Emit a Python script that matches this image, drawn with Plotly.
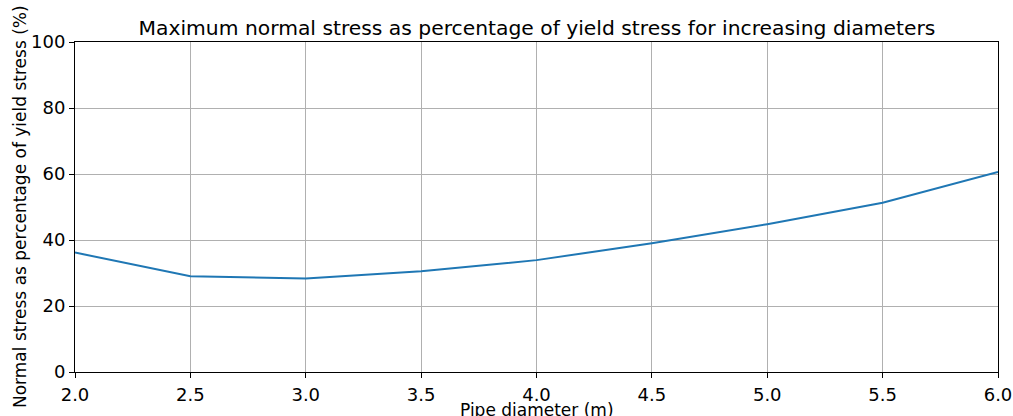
import plotly.graph_objects as go

diameters = [2.0, 2.5, 3.0, 3.5, 4.0, 4.5, 5.0, 5.5, 6.0]
stress_pct = [36.2, 29.0, 28.3, 30.5, 33.9, 39.0, 44.8, 51.3, 60.6]
x_ticks = [2.0, 2.5, 3.0, 3.5, 4.0, 4.5, 5.0, 5.5, 6.0]
y_ticks = [0, 20, 40, 60, 80, 100]

FONT = "DejaVu Sans"

fig = go.Figure()
fig.add_trace(go.Scatter(x=diameters, y=stress_pct, mode="lines",
                         line=dict(color="#1f77b4", width=2), showlegend=False))

axis_common = dict(showline=True, linecolor="black", linewidth=1, mirror=True,
                   showgrid=True, gridcolor="#b0b0b0", gridwidth=1,
                   ticks="outside", ticklen=5, tickwidth=1, tickcolor="black",
                   zeroline=False, automargin=False,
                   tickfont=dict(family=FONT, size=18, color="black"))

fig.update_layout(
    width=1013, height=416,
    margin=dict(l=75, r=15, t=42, b=44),
    paper_bgcolor="white", plot_bgcolor="white",
    title=dict(text="Maximum normal stress as percentage of yield stress for increasing diameters",
               x=0.5005, xref="paper", y=1 - 28/416, yref="container",
               xanchor="center", yanchor="middle",
               font=dict(family=FONT, size=20.3, color="black")),
    xaxis=dict(range=[2, 6], tickvals=x_ticks, ticktext=[f"{v:.1f}" for v in x_ticks],
               ticklabelstandoff=1, **axis_common),
    yaxis=dict(range=[0, 100], tickvals=y_ticks, **axis_common),
    annotations=[
        dict(text="Pipe diameter (m)", x=0.5, y=(372 - 410) / 330, xref="paper", yref="paper",
             xanchor="center", yanchor="middle", showarrow=False,
             font=dict(family=FONT, size=17, color="black")),
        dict(text="Normal stress as percentage of yield stress (%)", x=(20 - 75) / 923, y=0.5,
             xref="paper", yref="paper", xanchor="center", yanchor="middle", textangle=-90,
             showarrow=False, font=dict(family=FONT, size=17, color="black")),
    ],
)

fig.write_html("out.html")
